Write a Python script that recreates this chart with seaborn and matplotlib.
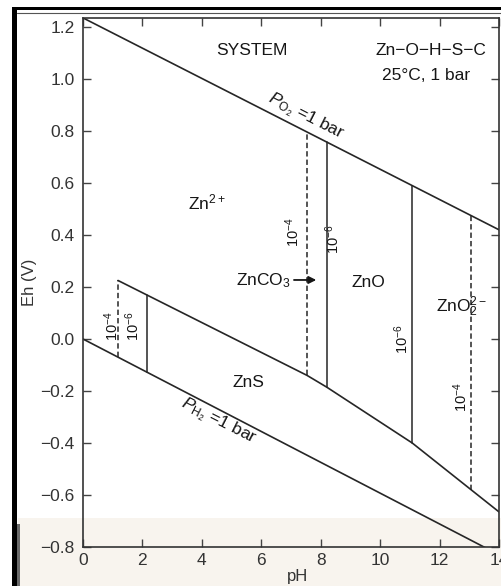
import numpy as np
import pandas as pd
import matplotlib
matplotlib.use('Agg')
import matplotlib.pyplot as plt
import seaborn as sns
from matplotlib.patches import Rectangle
from matplotlib.lines import Line2D

# ---------------- data ----------------
o2_ph = [0.0, 14.0]
o2_eh = [1.235, 0.42]
h2_ph = [0.0, 14.0]
h2_eh = [0.0, -0.83]
zns_ph = [1.18, 7.54, 8.2, 11.08, 14.0]
zns_eh = [0.225, -0.14, -0.185, -0.40, -0.665]

vert_ph = [1.18, 2.15, 7.54, 8.2, 11.08, 13.06]
vert_kind = ['1e-4', '1e-6', '1e-4', '1e-6', '1e-6', '1e-4']
vert_upper = ['zns', 'zns', 'o2', 'o2', 'o2', 'o2']
vert_lower = ['h2', 'h2', 'zns', 'zns', 'zns', 'zns']

conc_text = [r'$\mathregular{10^{-4}}$', r'$\mathregular{10^{-6}}$', r'$\mathregular{10^{-4}}$',
             r'$\mathregular{10^{-6}}$', r'$\mathregular{10^{-6}}$', r'$\mathregular{10^{-4}}$']
species_text = [r'Zn$\mathregular{^{2+}}$', r'ZnCO$\mathregular{_3}$', 'ZnO',
                r'ZnO$\mathregular{_2^{2-}}$', 'ZnS']

x_ticks = [0, 2, 4, 6, 8, 10, 12, 14]
y_ticks = [-0.8, -0.6, -0.4, -0.2, 0.0, 0.2, 0.4, 0.6, 0.8, 1.0, 1.2]

# ---------------- style ----------------
sns.set_theme(style='ticks')
plt.rcParams['font.family'] = ['Liberation Sans', 'DejaVu Sans']
plt.rcParams['mathtext.fontset'] = 'custom'
plt.rcParams['mathtext.rm'] = 'Liberation Sans'
plt.rcParams['mathtext.it'] = 'Liberation Sans:italic'
plt.rcParams['mathtext.bf'] = 'Liberation Sans:bold'

W, H = 502, 586
fig = plt.figure(figsize=(W / 100, H / 100), dpi=100, facecolor='white')
ax = fig.add_axes([83 / W, 39 / H, 416 / W, 529 / H])
ax.set_facecolor('none')

# scan artefacts: beige band at bottom, black frame
fig.patches.append(Rectangle((18 / W, 0), 1, 68 / H, transform=fig.transFigure,
                             facecolor='#f8f4ee', edgecolor='none', zorder=-5))
fig.patches.append(Rectangle((12 / W, 0), 5 / W, (H - 7) / H, transform=fig.transFigure,
                             facecolor='black', edgecolor='none', zorder=5))
fig.patches.append(Rectangle((12 / W, (H - 10) / H), 1, 3 / H, transform=fig.transFigure,
                             facecolor='black', edgecolor='none', zorder=5))
fig.patches.append(Rectangle((17 / W, 0), 3 / W, 62 / H, transform=fig.transFigure,
                             facecolor='#6a6a6a', edgecolor='none', zorder=4))
fig.lines.append(Line2D([17 / W, 1], [(H - 12.5) / H] * 2, transform=fig.transFigure,
                        color='#555555', lw=0.8))

line_col = '#262626'
for px, ey in [(o2_ph, o2_eh), (h2_ph, h2_eh), (zns_ph, zns_eh)]:
    df = pd.DataFrame({'pH': px, 'Eh': ey})
    sns.lineplot(data=df, x='pH', y='Eh', ax=ax, color=line_col, lw=1.2,
                 estimator=None, sort=False)

bounds = {'o2': (o2_ph, o2_eh), 'h2': (h2_ph, h2_eh), 'zns': (zns_ph, zns_eh)}
for p, kind, up, lo in zip(vert_ph, vert_kind, vert_upper, vert_lower):
    top = float(np.interp(p, *bounds[up]))
    bot = float(np.interp(p, *bounds[lo]))
    df = pd.DataFrame({'pH': [p, p], 'Eh': [bot, top]})
    ls = (0, (3.5, 2.0)) if kind == '1e-4' else '-'
    sns.lineplot(data=df, x='pH', y='Eh', ax=ax, color=line_col, lw=1.1,
                 linestyle=ls, estimator=None, sort=False)

# ---------------- labels ----------------
txt_col = '#161616'
conc_x = [0.98, 1.68, 7.07, 8.42, 10.74, 12.72]
conc_y = [0.05, 0.05, 0.41, 0.385, 0.0, -0.223]
for t, x, y in zip(conc_text, conc_x, conc_y):
    ax.text(x, y, t, rotation=90, ha='center', va='center', fontsize=10.5, color=txt_col)

sp_x = [4.18, 6.06, 9.6, 12.73, 5.56]
sp_y = [0.527, 0.223, 0.219, 0.123, -0.169]
for t, x, y in zip(species_text, sp_x, sp_y):
    ax.text(x, y, t, ha='center', va='center', fontsize=12.5, color=txt_col)

ax.annotate('', xy=(7.85, 0.227), xytext=(7.1, 0.227),
            arrowprops=dict(arrowstyle='-|>', color=txt_col, lw=1.3, mutation_scale=11,
                            shrinkA=0, shrinkB=0))

ax.text(5.7, 1.11, 'SYSTEM', ha='center', va='center', fontsize=12.5, color=txt_col)
ax.text(11.72, 1.11, 'Zn\u2212O\u2212H\u2212S\u2212C', ha='center', va='center',
        fontsize=12.5, color=txt_col)
ax.text(11.55, 1.015, '25\u00b0C, 1 bar', ha='center', va='center', fontsize=12.5,
        color=txt_col)

ax.text(7.5, 0.854, r'$P_{\mathrm{O}_2}$ =1 bar', rotation=-27, ha='center', va='center',
        rotation_mode='anchor', fontsize=12.5, color=txt_col)
ax.text(4.55, -0.319, r'$P_{\mathrm{H}_2}$ =1 bar', rotation=-27, ha='center', va='center',
        rotation_mode='anchor', fontsize=12.5, color=txt_col)

# ---------------- axes ----------------
ax.set_xlim(0, 14)
ax.set_ylim(-0.8, 1.2346)
ax.set_xticks(x_ticks)
ax.set_yticks(y_ticks)
ax.set_xticklabels([str(v) for v in x_ticks])
ax.set_yticklabels([f'{v:.1f}'.replace('-', '\u2212') for v in y_ticks])
ax.tick_params(direction='in', top=True, right=True, length=6, width=1.0,
               colors='#444444', labelsize=12.5, labelcolor='#333333', pad=6)
ax.tick_params(axis='x', pad=4)
for s in ax.spines.values():
    s.set_visible(True)
    s.set_color('#333333')
    s.set_linewidth(1.2)
ax.set_xlabel('pH', fontsize=12, color='#333333', labelpad=0)
ax.set_ylabel('Eh (V)', fontsize=12, color='#333333')
ax.yaxis.set_label_coords(-0.11, 0.5)
ax.xaxis.set_label_coords(0.515, -0.042)

fig.savefig('out.png', dpi=100, facecolor='white')
